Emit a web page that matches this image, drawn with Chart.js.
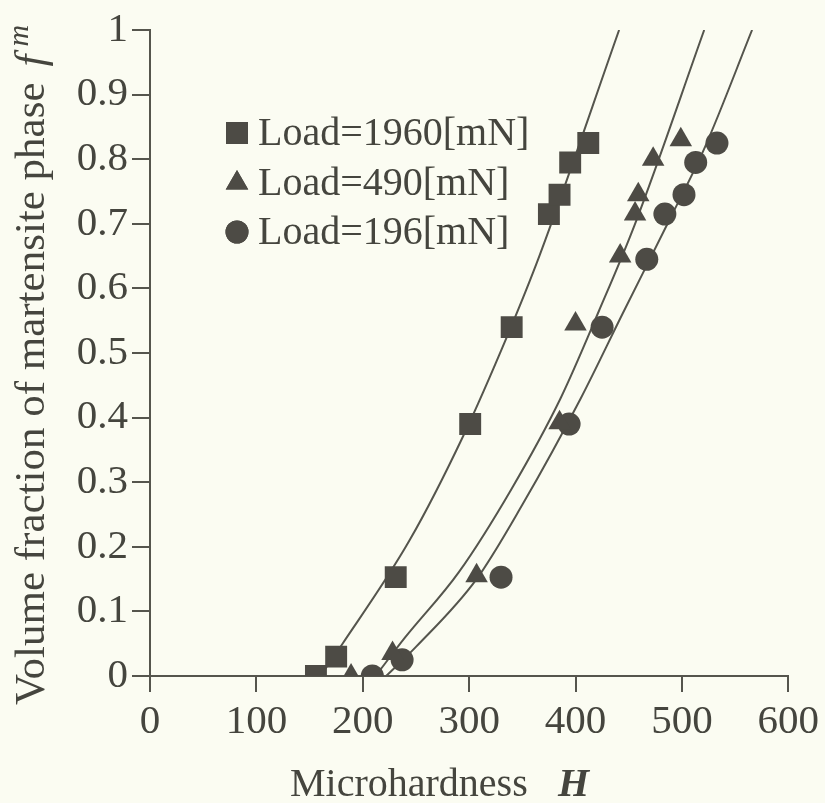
<!DOCTYPE html>
<html>
<head>
<meta charset="utf-8">
<script src="https://cdn.jsdelivr.net/npm/chart.js@4.4.1/dist/chart.umd.min.js"></script>
<style>
  html, body { margin: 0; padding: 0; background: #fbfcf2; }
  #chart { display: block; }
</style>
</head>
<body>
<canvas id="chart" width="825" height="803"></canvas>
<script>
// measured points (H, f) for each load
const loads = ['Load=1960[mN]', 'Load=490[mN]', 'Load=196[mN]']
const styles = ['rect', 'triangle', 'circle']

const h1960 = [156, 175, 231, 301, 340, 375, 385, 395, 412]
const f1960 = [0, 0.03, 0.153, 0.39, 0.54, 0.715, 0.745, 0.795, 0.825]

const h490 = [189, 228, 307, 385, 400, 442, 456, 459, 473, 499]
const f490 = [0, 0.035, 0.155, 0.392, 0.545, 0.65, 0.715, 0.745, 0.80, 0.83]

const h196 = [209, 237, 330, 394, 425, 467, 484, 502, 513, 533]
const f196 = [0, 0.025, 0.153, 0.39, 0.54, 0.645, 0.715, 0.745, 0.795, 0.825]

// fitted curves
const fitH1960 = [160, 181, 244, 294, 336, 366, 441]
const fitF1960 = [0, 0.05, 0.21, 0.37, 0.527, 0.65, 1.0]

const fitH490 = [212, 240, 290, 340, 386, 422, 456, 521]
const fitF490 = [0, 0.06, 0.16, 0.29, 0.43, 0.565, 0.70, 1.0]

const fitH196 = [222, 250, 307, 350, 405, 444, 488, 522, 566]
const fitF196 = [0, 0.045, 0.15, 0.265, 0.43, 0.56, 0.705, 0.82, 1.0]

const xTitle = 'Microhardness'
const xVar = 'H'
const yTitle = 'Volume fraction of martensite phase'

const ink = '#45453e'
const markColor = '#4d4b45'
const lineColor = '#55554d'
const serif = '"Liberation Serif", "Times New Roman", serif'

function pts(xs, ys) {
    return xs.map((x, i) => ({ x: x, y: ys[i] }))
}

function markers(label, style, xs, ys, r) {
    return {
        label: label,
        data: pts(xs, ys),
        showLine: false,
        pointStyle: style,
        pointRadius: r,
        pointBackgroundColor: markColor,
        pointBorderColor: markColor,
        pointBorderWidth: 0,
        order: 0
    }
}

function curve(xs, ys) {
    return {
        label: '',
        data: pts(xs, ys),
        borderColor: lineColor,
        borderWidth: 2,
        pointRadius: 0,
        cubicInterpolationMode: 'monotone',
        fill: false,
        order: 1
    }
}

const radii = [15.5, 13, 11.5]

// titles with mixed fonts + legend inside the plot
const extras = {
    id: 'extras',
    afterDraw(chart) {
        const ctx = chart.ctx
        ctx.save()
        ctx.fillStyle = ink
        ctx.textBaseline = 'alphabetic'

        ctx.font = '40px ' + serif
        ctx.fillText(xTitle, 290, 796)
        ctx.font = 'bold italic 40px ' + serif
        ctx.fillText(xVar, 558, 796)

        ctx.save()
        ctx.translate(44, 705)
        ctx.rotate(-Math.PI / 2)
        ctx.font = '43px ' + serif
        ctx.fillText(yTitle, 0, 0)
        let w = ctx.measureText(yTitle).width + 16
        ctx.font = 'italic 43px ' + serif
        ctx.fillText('f', w, 0)
        w += ctx.measureText('f').width + 8
        ctx.font = 'italic 30px ' + serif
        ctx.fillText('m', w, -16)
        ctx.restore()

        // legend
        const rows = [133, 183, 232]
        ctx.font = '40px ' + serif
        ctx.textBaseline = 'middle'
        loads.forEach((label, i) => {
            ctx.fillStyle = markColor
            Chart.helpers.drawPoint(ctx, { pointStyle: styles[i], radius: radii[i], rotation: 0, borderWidth: 0 }, 237, rows[i])
            ctx.fill()
            ctx.fillStyle = ink
            ctx.fillText(label, 258, rows[i] + 1)
        })
        ctx.restore()
    }
}

const tickFont = { family: serif, size: 41 }

new Chart('chart', {
    type: 'line',
    data: {
        datasets: [
            markers(loads[0], styles[0], h1960, f1960, radii[0]),
            markers(loads[1], styles[1], h490, f490, radii[1]),
            markers(loads[2], styles[2], h196, f196, radii[2]),
            curve(fitH1960, fitF1960),
            curve(fitH490, fitF490),
            curve(fitH196, fitF196)
        ]
    },
    options: {
        responsive: false,
        animation: false,
        devicePixelRatio: 1,
        layout: { padding: { left: 0, top: 30, right: 35, bottom: 0 } },
        plugins: {
            legend: { display: false },
            tooltip: { enabled: false }
        },
        scales: {
            x: {
                type: 'linear',
                min: 0,
                max: 600,
                ticks: { stepSize: 100, font: tickFont, color: ink, padding: 6, maxRotation: 0, autoSkip: false },
                grid: { drawOnChartArea: false, tickLength: 16, color: lineColor, lineWidth: 2 },
                border: { color: lineColor, width: 2 },
                afterFit(s) { s.height = 127 }
            },
            y: {
                min: 0,
                max: 1,
                ticks: {
                    stepSize: 0.1, font: tickFont, color: ink, padding: 4,
                    callback: v => +v.toFixed(1)
                },
                grid: { drawOnChartArea: false, tickLength: 18, color: lineColor, lineWidth: 2 },
                border: { color: lineColor, width: 2 },
                afterFit(s) { s.width = 150 }
            }
        }
    },
    plugins: [extras]
})
</script>
</body>
</html>
